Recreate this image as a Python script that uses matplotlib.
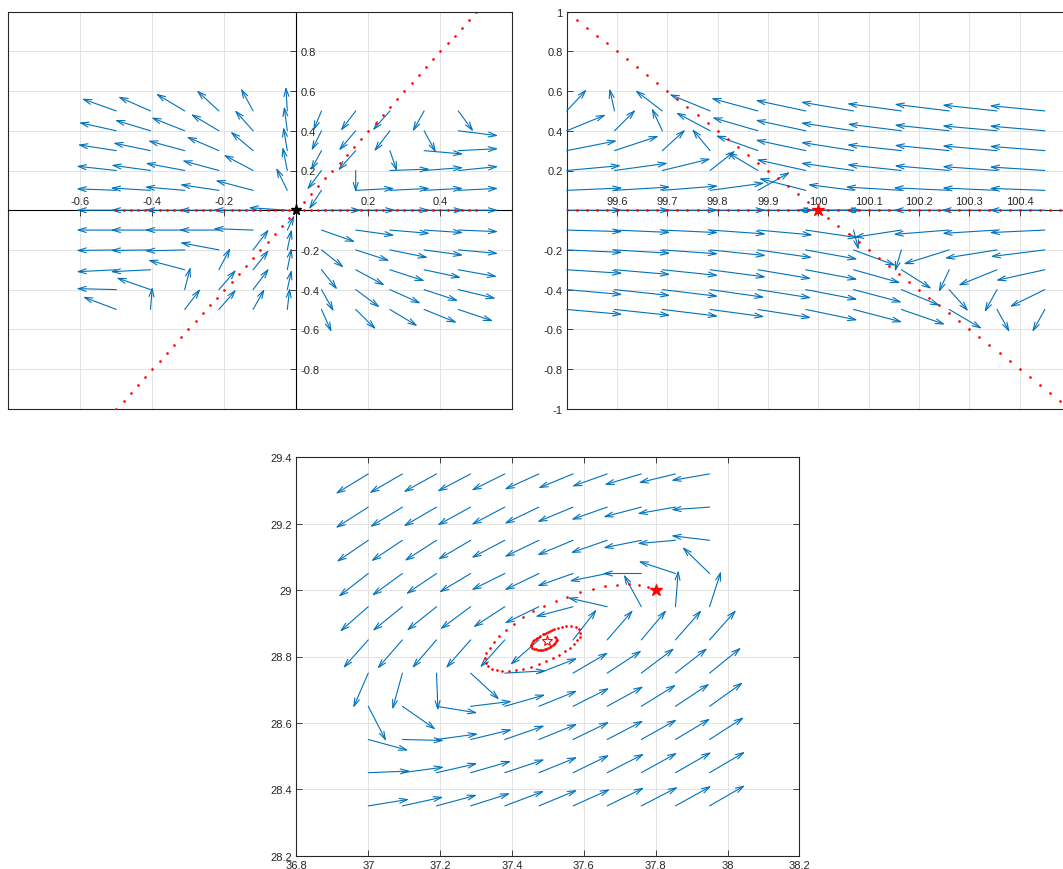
import matplotlib
matplotlib.use('Agg')
import matplotlib.pyplot as plt

plt.rcParams['font.family'] = ['Liberation Sans', 'DejaVu Sans']
plt.rcParams['font.size'] = 8

BLUE = '#0072BD'
TXT = '#262626'
GRID = '#dedede'

# ---------------- Panel 1 (saddle at origin) ----------------
p1_x = [-0.5, -0.405, -0.31, -0.215, -0.12, -0.025, 0.07, 0.165, 0.26, 0.355, 0.45]
p1_y = [0.5, 0.4, 0.3, 0.2, 0.1, 0.0, -0.1, -0.2, -0.3, -0.4, -0.5]
p1_u = [
    [-0.096, -0.090, -0.080, -0.062, -0.034, -0.004, -0.023, -0.042, -0.048, -0.032, 0.042],
    [-0.104, -0.099, -0.093, -0.078, -0.051, -0.009, -0.028, -0.047, -0.044, 0.033, 0.111],
    [-0.107, -0.104, -0.102, -0.090, -0.063, -0.011, -0.030, -0.049, 0.020, 0.109, 0.111],
    [-0.111, -0.109, -0.109, -0.102, -0.082, -0.013, -0.040, 0.000, 0.111, 0.109, 0.111],
    [-0.111, -0.111, -0.111, -0.108, -0.105, -0.031, -0.035, 0.108, 0.111, 0.109, 0.111],
    [-0.111, -0.111, -0.111, -0.111, -0.111, -0.108, 0.111, 0.111, 0.111, 0.111, 0.111],
    [-0.111, -0.111, -0.111, -0.111, -0.111, 0.020, 0.094, 0.108, 0.111, 0.109, 0.111],
    [-0.111, -0.111, -0.111, -0.108, 0.044, 0.012, 0.062, 0.094, 0.106, 0.109, 0.111],
    [-0.111, -0.111, -0.102, 0.032, 0.044, 0.012, 0.044, 0.081, 0.097, 0.103, 0.108],
    [-0.111, -0.095, 0.016, 0.048, 0.044, 0.012, 0.034, 0.067, 0.086, 0.095, 0.104],
    [-0.093, 0.005, 0.044, 0.048, 0.032, 0.007, 0.028, 0.056, 0.077, 0.091, 0.097],
]
p1_v = [
    [0.062, 0.072, 0.087, 0.104, 0.114, 0.123, -0.100, -0.100, -0.098, -0.104, -0.104],
    [0.042, 0.054, 0.067, 0.084, 0.104, 0.123, -0.100, -0.100, -0.104, -0.110, -0.025],
    [0.030, 0.039, 0.050, 0.070, 0.096, 0.119, -0.100, -0.100, -0.105, -0.017, 0.010],
    [0.022, 0.027, 0.037, 0.050, 0.079, 0.119, -0.097, -0.110, 0.007, 0.015, 0.020],
    [0.008, 0.012, 0.017, 0.029, 0.050, 0.114, -0.096, 0.010, 0.010, 0.010, 0.010],
    [0.000, 0.000, 0.000, 0.000, 0.000, 0.013, 0.000, 0.000, 0.000, 0.000, 0.000],
    [0.000, 0.000, 0.000, 0.000, 0.007, 0.075, -0.060, -0.027, -0.017, -0.013, -0.008],
    [-0.003, -0.003, -0.005, 0.037, 0.104, 0.104, -0.089, -0.055, -0.039, -0.027, -0.018],
    [-0.010, -0.010, 0.049, 0.110, 0.100, 0.110, -0.100, -0.079, -0.057, -0.040, -0.035],
    [0.005, 0.060, 0.114, 0.100, 0.106, 0.100, -0.110, -0.090, -0.070, -0.057, -0.045],
    [0.064, 0.114, 0.104, 0.100, 0.104, 0.109, -0.114, -0.100, -0.084, -0.067, -0.059],
]
traj1_x = [-0.5, -0.48, -0.46, -0.44, -0.42, -0.4, -0.38, -0.36, -0.34, -0.32, -0.3,
           -0.28, -0.26, -0.24, -0.22, -0.2, -0.18, -0.16, -0.14, -0.12, -0.1, -0.08,
           -0.06, -0.04, -0.02, 0.0, 0.02, 0.04, 0.06, 0.08, 0.1, 0.12, 0.14, 0.16,
           0.18, 0.2, 0.22, 0.24, 0.26, 0.28, 0.3, 0.32, 0.34, 0.36, 0.38, 0.4, 0.42,
           0.44, 0.46, 0.48, 0.5]
traj1_axis_y = [0.0] * 51
traj1_diag_y = [-1.0, -0.96, -0.92, -0.88, -0.84, -0.8, -0.76, -0.72, -0.68, -0.64, -0.6,
                -0.56, -0.52, -0.48, -0.44, -0.4, -0.36, -0.32, -0.28, -0.24, -0.2, -0.16,
                -0.12, -0.08, -0.04, 0.0, 0.04, 0.08, 0.12, 0.16, 0.2, 0.24, 0.28, 0.32,
                0.36, 0.4, 0.44, 0.48, 0.52, 0.56, 0.6, 0.64, 0.68, 0.72, 0.76, 0.8, 0.84,
                0.88, 0.92, 0.96, 1.0]
eq1 = (0.0, 0.0)

# ---------------- Panel 2 (saddle at (100, 0)) ----------------
p2_x = [99.5, 99.595, 99.69, 99.785, 99.88, 99.975, 100.07, 100.165, 100.26, 100.355, 100.45]
p2_y = [0.5, 0.4, 0.3, 0.2, 0.1, 0.0, -0.1, -0.2, -0.3, -0.4, -0.5]
p2_u = [
    [0.040, -0.010, -0.054, -0.081, -0.093, -0.100, -0.105, -0.108, -0.109, -0.109, -0.110],
    [0.078, 0.042, -0.021, -0.068, -0.091, -0.100, -0.105, -0.107, -0.109, -0.109, -0.110],
    [0.100, 0.088, 0.046, -0.036, -0.084, -0.100, -0.105, -0.108, -0.109, -0.109, -0.110],
    [0.108, 0.106, 0.096, 0.050, -0.061, -0.098, -0.105, -0.108, -0.109, -0.109, -0.110],
    [0.111, 0.111, 0.111, 0.108, 0.064, -0.093, -0.091, -0.111, -0.111, -0.109, -0.110],
    [0.111, 0.111, 0.111, 0.111, 0.111, 0.111, -0.111, -0.111, -0.111, -0.111, -0.111],
    [0.111, 0.111, 0.111, 0.111, 0.109, 0.104, 0.010, -0.095, -0.111, -0.109, -0.110],
    [0.111, 0.111, 0.111, 0.111, 0.108, 0.103, 0.084, -0.013, -0.091, -0.104, -0.108],
    [0.111, 0.111, 0.111, 0.111, 0.106, 0.103, 0.093, 0.060, -0.021, -0.077, -0.097],
    [0.111, 0.111, 0.111, 0.108, 0.106, 0.103, 0.096, 0.077, 0.038, -0.025, -0.070],
    [0.111, 0.111, 0.111, 0.108, 0.106, 0.103, 0.097, 0.087, 0.065, 0.025, -0.025],
]
p2_v = [
    [0.109, 0.114, 0.104, 0.084, 0.064, 0.054, 0.045, 0.037, 0.034, 0.030, 0.027],
    [0.081, 0.106, 0.114, 0.092, 0.067, 0.054, 0.040, 0.034, 0.029, 0.025, 0.024],
    [0.050, 0.074, 0.106, 0.109, 0.076, 0.054, 0.042, 0.030, 0.027, 0.024, 0.022],
    [0.025, 0.037, 0.059, 0.100, 0.092, 0.055, 0.037, 0.029, 0.024, 0.020, 0.018],
    [0.012, 0.017, 0.022, 0.037, 0.092, 0.060, 0.029, 0.017, 0.013, 0.012, 0.010],
    [0.000, 0.000, 0.000, 0.000, 0.000, 0.000, 0.000, 0.000, 0.000, 0.000, 0.000],
    [-0.008, -0.012, -0.013, -0.020, -0.025, -0.039, -0.100, -0.037, -0.022, -0.017, -0.013],
    [-0.013, -0.017, -0.020, -0.029, -0.039, -0.047, -0.079, -0.109, -0.072, -0.042, -0.034],
    [-0.018, -0.024, -0.029, -0.037, -0.045, -0.049, -0.066, -0.096, -0.113, -0.079, -0.054],
    [-0.025, -0.030, -0.034, -0.039, -0.042, -0.050, -0.064, -0.081, -0.109, -0.114, -0.087],
    [-0.025, -0.030, -0.034, -0.037, -0.042, -0.054, -0.064, -0.076, -0.097, -0.114, -0.114],
]
traj2_x = [99.5, 99.52, 99.54, 99.56, 99.58, 99.6, 99.62, 99.64, 99.66, 99.68, 99.7,
           99.72, 99.74, 99.76, 99.78, 99.8, 99.82, 99.84, 99.86, 99.88, 99.9, 99.92,
           99.94, 99.96, 99.98, 100.0, 100.02, 100.04, 100.06, 100.08, 100.1, 100.12,
           100.14, 100.16, 100.18, 100.2, 100.22, 100.24, 100.26, 100.28, 100.3, 100.32,
           100.34, 100.36, 100.38, 100.4, 100.42, 100.44, 100.46, 100.48, 100.5]
traj2_axis_y = [0.0] * 51
traj2_diag_y = [1.0, 0.96, 0.92, 0.88, 0.84, 0.8, 0.76, 0.72, 0.68, 0.64, 0.6,
                0.56, 0.52, 0.48, 0.44, 0.4, 0.36, 0.32, 0.28, 0.24, 0.2, 0.16,
                0.12, 0.08, 0.04, 0.0, -0.04, -0.08, -0.12, -0.16, -0.2, -0.24, -0.28,
                -0.32, -0.36, -0.4, -0.44, -0.48, -0.52, -0.56, -0.6, -0.64, -0.68,
                -0.72, -0.76, -0.8, -0.84, -0.88, -0.92, -0.96, -1.0]
eq2 = (100.0, 0.0)

# ---------------- Panel 3 (stable spiral) ----------------
p3_x = [37.0, 37.095, 37.19, 37.285, 37.38, 37.475, 37.57, 37.665, 37.76, 37.855, 37.95]
p3_y = [29.35, 29.25, 29.15, 29.05, 28.95, 28.85, 28.75, 28.65, 28.55, 28.45, 28.35]
p3_u = [
    [-0.091, -0.092, -0.092, -0.093, -0.093, -0.096, -0.097, -0.098, -0.103, -0.103, -0.107],
    [-0.091, -0.090, -0.092, -0.093, -0.093, -0.096, -0.100, -0.100, -0.106, -0.106, -0.107],
    [-0.088, -0.087, -0.089, -0.091, -0.093, -0.096, -0.100, -0.102, -0.106, -0.106, -0.107],
    [-0.083, -0.085, -0.085, -0.088, -0.093, -0.096, -0.100, -0.105, -0.108, -0.103, -0.076],
    [-0.079, -0.083, -0.083, -0.085, -0.088, -0.096, -0.105, -0.110, -0.049, 0.008, 0.032],
    [-0.070, -0.070, -0.068, -0.069, -0.069, -0.080, 0.066, 0.072, 0.070, 0.073, 0.074],
    [-0.042, -0.028, 0.004, 0.080, 0.115, 0.107, 0.098, 0.096, 0.092, 0.089, 0.088],
    [0.050, 0.093, 0.114, 0.115, 0.113, 0.107, 0.101, 0.101, 0.097, 0.095, 0.093],
    [0.112, 0.116, 0.116, 0.115, 0.111, 0.107, 0.101, 0.101, 0.099, 0.097, 0.096],
    [0.117, 0.116, 0.114, 0.113, 0.111, 0.107, 0.101, 0.103, 0.100, 0.100, 0.099],
    [0.114, 0.114, 0.113, 0.110, 0.110, 0.107, 0.103, 0.103, 0.102, 0.100, 0.099],
]
p3_v = [
    [-0.060, -0.058, -0.055, -0.053, -0.050, -0.047, -0.043, -0.038, -0.033, -0.027, -0.020],
    [-0.063, -0.060, -0.058, -0.055, -0.053, -0.050, -0.045, -0.038, -0.030, -0.020, -0.008],
    [-0.065, -0.063, -0.062, -0.058, -0.053, -0.050, -0.045, -0.038, -0.023, -0.010, 0.014],
    [-0.070, -0.067, -0.062, -0.057, -0.050, -0.050, -0.038, -0.023, 0.000, 0.037, 0.080],
    [-0.075, -0.073, -0.072, -0.068, -0.062, -0.050, -0.030, 0.027, 0.097, 0.110, 0.107],
    [-0.085, -0.087, -0.085, -0.085, -0.083, -0.075, 0.092, 0.090, 0.090, 0.090, 0.090],
    [-0.105, -0.110, -0.113, -0.080, 0.007, 0.045, 0.062, 0.068, 0.075, 0.075, 0.077],
    [-0.105, -0.070, -0.020, 0.015, 0.035, 0.047, 0.055, 0.060, 0.065, 0.068, 0.072],
    [-0.033, -0.003, 0.017, 0.030, 0.042, 0.047, 0.053, 0.057, 0.060, 0.063, 0.067],
    [0.005, 0.017, 0.028, 0.035, 0.040, 0.047, 0.053, 0.057, 0.060, 0.062, 0.063],
    [0.020, 0.027, 0.033, 0.038, 0.045, 0.048, 0.050, 0.055, 0.057, 0.060, 0.062],
]
traj3_x = [37.799, 37.778, 37.753, 37.725, 37.693, 37.660, 37.625, 37.589, 37.554, 37.522,
           37.488, 37.458, 37.431, 37.406, 37.382, 37.364, 37.349, 37.338, 37.329, 37.325,
           37.327, 37.333, 37.344, 37.357, 37.373, 37.391, 37.410, 37.431, 37.454, 37.475,
           37.496, 37.514, 37.531, 37.547, 37.561, 37.572, 37.581, 37.588, 37.589, 37.586,
           37.577, 37.565, 37.551, 37.540, 37.528, 37.517, 37.511, 37.505, 37.499, 37.494,
           37.489, 37.485, 37.479, 37.474, 37.470, 37.466, 37.461, 37.458, 37.455, 37.453,
           37.454, 37.457, 37.461, 37.466, 37.472, 37.477, 37.482, 37.487, 37.491, 37.496,
           37.500, 37.505, 37.509, 37.513, 37.516, 37.519, 37.522, 37.524, 37.523, 37.521]
traj3_y = [28.998, 29.008, 29.015, 29.018, 29.016, 29.011, 29.003, 28.993, 28.980, 28.966,
           28.951, 28.936, 28.918, 28.898, 28.879, 28.861, 28.843, 28.827, 28.810, 28.794,
           28.780, 28.770, 28.763, 28.758, 28.756, 28.756, 28.759, 28.762, 28.769, 28.777,
           28.786, 28.795, 28.806, 28.816, 28.827, 28.838, 28.850, 28.860, 28.872, 28.883,
           28.890, 28.893, 28.893, 28.890, 28.887, 28.882, 28.880, 28.877, 28.874, 28.872,
           28.869, 28.867, 28.863, 28.860, 28.857, 28.853, 28.849, 28.846, 28.841, 28.836,
           28.831, 28.827, 28.824, 28.822, 28.820, 28.820, 28.820, 28.821, 28.822, 28.824,
           28.826, 28.829, 28.832, 28.835, 28.838, 28.842, 28.846, 28.851, 28.856, 28.860]
start3 = (37.8, 29.0)
eq3 = (37.498, 28.847)

ARROWSTYLE = '->,head_length=0.72,head_width=0.22'


def draw_field(ax, xs, ys, U, V):
    for j, y in enumerate(ys):
        for i, x in enumerate(xs):
            ax.annotate('', xy=(x + U[j][i], y + V[j][i]), xytext=(x, y),
                        xycoords='data', textcoords='data',
                        arrowprops=dict(arrowstyle=ARROWSTYLE, color=BLUE, lw=0.8,
                                        shrinkA=0, shrinkB=0),
                        annotation_clip=False, zorder=3)


def box_edges(ax, sides):
    for s in sides:
        if s == 'top':
            ax.plot([0, 1], [1, 1], transform=ax.transAxes, color=TXT, lw=0.8,
                    clip_on=False, zorder=5)
        elif s == 'right':
            ax.plot([1, 1], [0, 1], transform=ax.transAxes, color=TXT, lw=0.8,
                    clip_on=False, zorder=5)


def dots(ax, x, y):
    ax.plot(x, y, linestyle='none', marker='o', ms=1.9, mew=0, color='red', zorder=4)


fig = plt.figure(figsize=(10.63, 8.70), dpi=100)
W, H = 1063.0, 870.0

# ---- Panel 1 ----
ax1 = fig.add_axes([8.3 / W, (H - 409.7) / H, 504 / W, 397 / H])
ax1.set_xlim(-0.8, 0.6)
ax1.set_ylim(-1, 1)
ax1.set_axisbelow(True)
ax1.grid(True, color=GRID, lw=0.6)
draw_field(ax1, p1_x, p1_y, p1_u, p1_v)
dots(ax1, traj1_x, traj1_axis_y)
dots(ax1, traj1_x, traj1_diag_y)
ax1.plot([eq1[0]], [eq1[1]], marker='*', ms=8, color='black', zorder=6, clip_on=False)
ax1.spines['top'].set_position(('data', 0))
ax1.spines['right'].set_position(('data', 0))
for s in ['top', 'right']:
    ax1.spines[s].set_color('black')
    ax1.spines[s].set_linewidth(0.8)
for s in ['bottom', 'left']:
    ax1.spines[s].set_color(TXT)
    ax1.spines[s].set_linewidth(0.8)
ax1.xaxis.tick_top()
ax1.yaxis.tick_right()
ax1.set_xticks([-0.6, -0.4, -0.2, 0.0, 0.2, 0.4])
ax1.set_xticklabels(['-0.6', '-0.4', '-0.2', '', '0.2', '0.4'])
ax1.set_yticks([-0.8, -0.6, -0.4, -0.2, 0.0, 0.2, 0.4, 0.6, 0.8])
ax1.set_yticklabels(['-0.8', '-0.6', '-0.4', '-0.2', '', '0.2', '0.4', '0.6', '0.8'])
ax1.tick_params(direction='in', length=4, width=0.6, colors=TXT, labelsize=8, pad=3)
box_edges(ax1, ['top', 'right'])

# ---- Panel 2 ----
ax2 = fig.add_axes([566.7 / W, (H - 409.7) / H, 503.3 / W, 397 / H])
ax2.set_xlim(99.5, 100.5)
ax2.set_ylim(-1, 1)
ax2.set_axisbelow(True)
ax2.grid(True, color=GRID, lw=0.6)
draw_field(ax2, p2_x, p2_y, p2_u, p2_v)
dots(ax2, traj2_x, traj2_axis_y)
dots(ax2, traj2_x, traj2_diag_y)
ax2.plot([eq2[0]], [eq2[1]], marker='*', ms=9, color='red', zorder=6)
ax2.spines['top'].set_position(('data', 0))
ax2.spines['top'].set_color(TXT)
ax2.spines['top'].set_linewidth(0.8)
ax2.spines['right'].set_visible(False)
for s in ['bottom', 'left']:
    ax2.spines[s].set_color(TXT)
    ax2.spines[s].set_linewidth(0.8)
ax2.xaxis.tick_top()
ax2.set_xticks([99.6, 99.7, 99.8, 99.9, 100.0, 100.1, 100.2, 100.3, 100.4])
ax2.set_xticklabels(['99.6', '99.7', '99.8', '99.9', '100', '100.1', '100.2', '100.3', '100.4'])
ax2.set_yticks([-1, -0.8, -0.6, -0.4, -0.2, 0.0, 0.2, 0.4, 0.6, 0.8, 1])
ax2.set_yticklabels(['-1', '-0.8', '-0.6', '-0.4', '-0.2', '', '0.2', '0.4', '0.6', '0.8', '1'])
ax2.tick_params(direction='in', length=4, width=0.6, colors=TXT, labelsize=8, pad=3)
box_edges(ax2, ['top'])

# ---- Panel 3 ----
ax3 = fig.add_axes([296.4 / W, (H - 856.7) / H, 503 / W, 398.4 / H])
ax3.set_xlim(36.8, 38.2)
ax3.set_ylim(28.2, 29.4)
ax3.set_axisbelow(True)
ax3.grid(True, color=GRID, lw=0.6)
draw_field(ax3, p3_x, p3_y, p3_u, p3_v)
dots(ax3, traj3_x, traj3_y)
ax3.plot([start3[0]], [start3[1]], marker='*', ms=9, color='red', zorder=6)
ax3.plot([eq3[0]], [eq3[1]], marker='*', ms=8, mfc='none', mec='red', mew=0.8, zorder=6)
for s in ax3.spines.values():
    s.set_color(TXT)
    s.set_linewidth(0.8)
ax3.set_xticks([36.8, 37.0, 37.2, 37.4, 37.6, 37.8, 38.0, 38.2])
ax3.set_xticklabels(['36.8', '37', '37.2', '37.4', '37.6', '37.8', '38', '38.2'])
ax3.set_yticks([28.2, 28.4, 28.6, 28.8, 29.0, 29.2, 29.4])
ax3.set_yticklabels(['28.2', '28.4', '28.6', '28.8', '29', '29.2', '29.4'])
ax3.tick_params(direction='in', length=4, width=0.6, colors=TXT, labelsize=8, pad=3,
                top=True, right=True)

fig.savefig('out.png', dpi=100)
